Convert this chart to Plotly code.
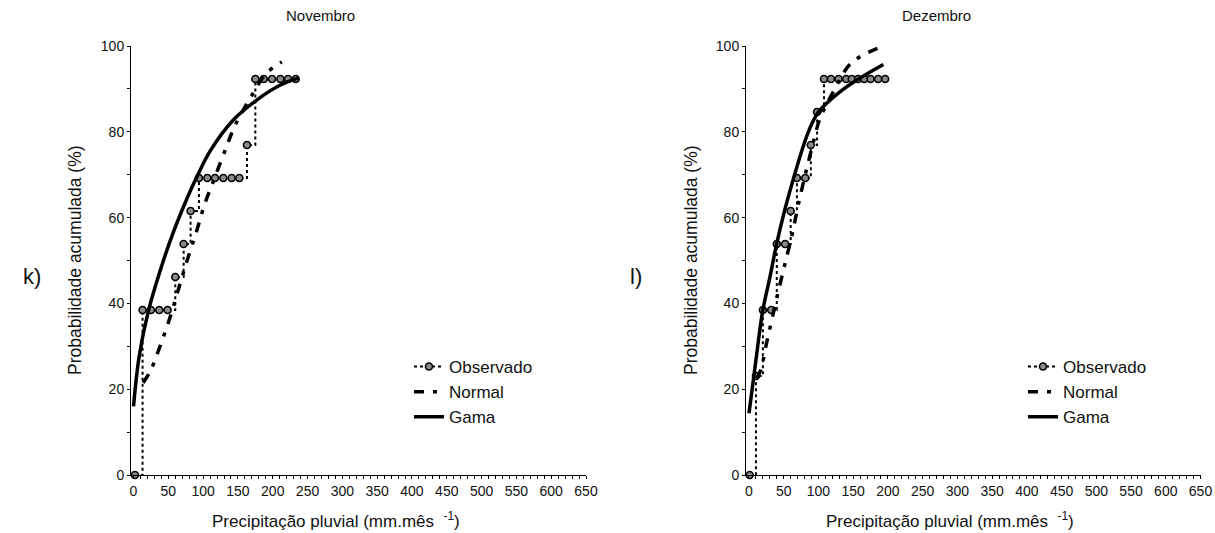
import plotly.graph_objects as go

# ---------------- data ----------------
nov_obs_x = [2, 13, 25, 37, 49, 60, 72, 82, 94, 106, 117, 129, 141, 152, 163, 175, 187, 199, 211, 222, 233]
nov_obs_y = [0, 38.46, 38.46, 38.46, 38.46, 46.15, 53.85, 61.54, 69.23, 69.23, 69.23, 69.23, 69.23, 69.23,
             76.92, 92.31, 92.31, 92.31, 92.31, 92.31, 92.31]
nov_norm_x = [14, 25, 38, 52, 64, 76, 90, 102, 116, 130, 146, 170, 190, 213]
nov_norm_y = [21.5, 24.5, 30, 36.5, 43, 49.5, 56.5, 63, 69, 75, 81.5, 88.5, 93.5, 96.3]
nov_gama_x = [0, 8, 21, 40, 57, 77, 91, 110, 143, 177, 211, 237]
nov_gama_y = [16, 27.5, 38, 48.5, 56.5, 64.5, 69.5, 75.5, 82.7, 87.4, 90.9, 92.5]

dez_obs_x = [1, 10, 20, 32, 40, 52, 60, 69, 81, 89, 98, 108, 118, 129, 140, 148, 157, 166, 175, 186, 196]
dez_obs_y = [0, 23.08, 38.46, 38.46, 53.85, 53.85, 61.54, 69.23, 69.23, 76.92, 84.62,
             92.31, 92.31, 92.31, 92.31, 92.31, 92.31, 92.31, 92.31, 92.31, 92.31]
dez_norm_x = [11, 17, 25, 34, 44, 53, 62, 71, 81, 91, 102, 122, 147, 186]
dez_norm_y = [22.5, 24.5, 30.5, 37, 44, 50, 56, 63, 70, 76.5, 83, 89.5, 96, 99.5]
dez_gama_x = [0, 8.6, 19.7, 30, 40, 56, 85.5, 100, 131, 157.5, 193.5]
dez_gama_y = [14.4, 25, 38.2, 46, 54, 64.5, 80, 84.6, 89.3, 92.3, 95.7]

panel_titles = ["Novembro", "Dezembro"]
panel_tags = ["k)", "l)"]
series_names = ["Observado", "Normal", "Gama"]
x_ticks = list(range(0, 651, 50))
y_ticks = list(range(0, 101, 20))
x_title = "Precipitação pluvial (mm.mês  <sup>-1</sup>)"
y_title = "Probabilidade acumulada (%)"

# ---------------- figure ----------------
W, H = 1215, 533
FONT = "Arial, Liberation Sans, Helvetica, sans-serif"


def px(p):
    return p / W


def py(p):
    return 1 - p / H


fig = go.Figure()

panels = [
    dict(obs=(nov_obs_x, nov_obs_y), norm=(nov_norm_x, nov_norm_y), gama=(nov_gama_x, nov_gama_y),
         xa="x", ya="y", legend="legend"),
    dict(obs=(dez_obs_x, dez_obs_y), norm=(dez_norm_x, dez_norm_y), gama=(dez_gama_x, dez_gama_y),
         xa="x2", ya="y2", legend="legend2"),
]

for p in panels:
    fig.add_trace(go.Scatter(
        x=p["obs"][0], y=p["obs"][1], name=series_names[0], mode="lines+markers",
        line=dict(color="black", width=2, dash="dot", shape="hv"),
        marker=dict(symbol="circle", size=7, color="#8a8a8a", line=dict(color="black", width=1.6)),
        xaxis=p["xa"], yaxis=p["ya"], legend=p["legend"], cliponaxis=False))
    fig.add_trace(go.Scatter(
        x=p["norm"][0], y=p["norm"][1], name=series_names[1], mode="lines",
        line=dict(color="black", width=3.5, dash="10px,9px,4px,9px", shape="spline"),
        xaxis=p["xa"], yaxis=p["ya"], legend=p["legend"], cliponaxis=False))
    fig.add_trace(go.Scatter(
        x=p["gama"][0], y=p["gama"][1], name=series_names[2], mode="lines",
        line=dict(color="black", width=3.5, shape="spline"),
        xaxis=p["xa"], yaxis=p["ya"], legend=p["legend"], cliponaxis=False))

axis_common = dict(showline=True, linecolor="black", linewidth=1, ticks="outside", ticklen=3,
                   tickcolor="black", tickwidth=1, showgrid=False, zeroline=False,
                   tickfont=dict(family=FONT, size=14, color="#111"))
minor = dict(dtick=10, ticks="outside", ticklen=3, tickcolor="black")

ydom = [py(475), py(46)]
fig.update_layout(
    width=W, height=H, margin=dict(l=0, r=0, t=0, b=0, autoexpand=False),
    plot_bgcolor="white", paper_bgcolor="white",
    font=dict(family=FONT, color="#111"),
    xaxis=dict(domain=[px(131), px(586)], range=[-3.6, 650], tickvals=x_ticks, minor=minor,
               anchor="y", **axis_common),
    yaxis=dict(domain=ydom, range=[0, 100], tickvals=y_ticks, minor=minor,
               anchor="x", **axis_common),
    xaxis2=dict(domain=[px(746), px(1200.5)], range=[-4.3, 650], tickvals=x_ticks, minor=minor,
                anchor="y2", **axis_common),
    yaxis2=dict(domain=ydom, range=[0, 100], tickvals=y_ticks, minor=minor,
                anchor="x2", **axis_common),
    legend=dict(x=px(409), y=py(349), xanchor="left", yanchor="top",
                bgcolor="rgba(0,0,0,0)", font=dict(family=FONT, size=17, color="#111"),
                tracegroupgap=0),
    legend2=dict(x=px(1023), y=py(349), xanchor="left", yanchor="top",
                 bgcolor="rgba(0,0,0,0)", font=dict(family=FONT, size=17, color="#111"),
                 tracegroupgap=0),
)

ann = []
title_cx = [320, 936]
xt_cx = [336, 950]
yt_cx = [75, 691]
tag_cx = [32, 636]
for i in range(2):
    ann.append(dict(text=panel_titles[i], x=px(title_cx[i]), y=py(15), xref="paper", yref="paper",
                    xanchor="center", yanchor="middle",
                    showarrow=False, font=dict(family=FONT, size=15, color="#111")))
    ann.append(dict(text=x_title, x=px(xt_cx[i]), y=py(533), xref="paper", yref="paper",
                    xanchor="center", yanchor="bottom",
                    showarrow=False, font=dict(family=FONT, size=17, color="#111")))
    ann.append(dict(text=y_title, x=px(yt_cx[i]), y=py(260), xref="paper", yref="paper", textangle=-90,
                    xanchor="center", yanchor="middle",
                    showarrow=False, font=dict(family=FONT, size=17.5, color="#111")))
    ann.append(dict(text=panel_tags[i], x=px(tag_cx[i]), y=py(276), xref="paper", yref="paper",
                    xanchor="center", yanchor="middle",
                    showarrow=False, font=dict(family=FONT, size=22, color="#111")))
fig.update_layout(annotations=ann)

fig.write_html("out.html")
